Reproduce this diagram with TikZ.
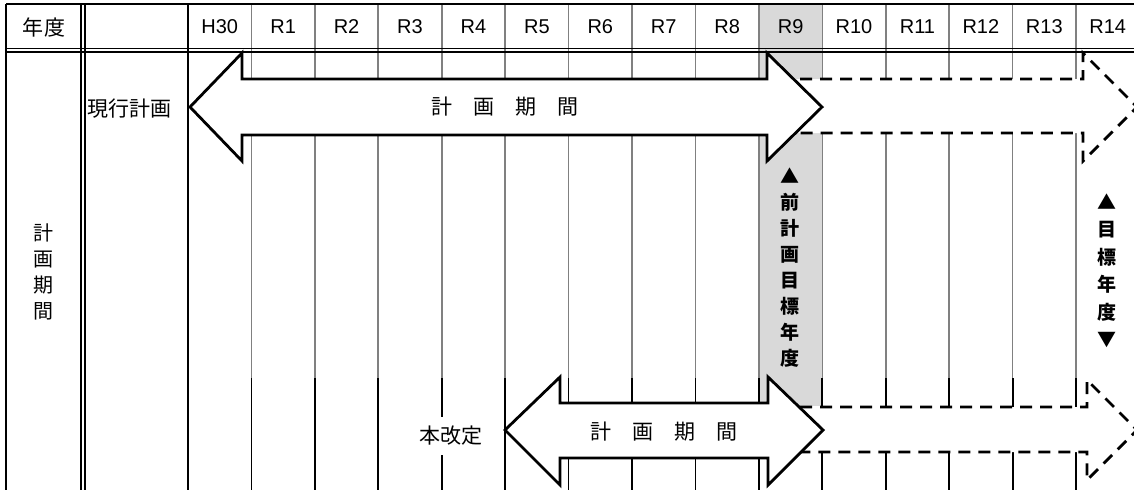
\documentclass[tikz,border=0pt]{standalone}
\usepackage{fontspec}
\setmainfont{Liberation Sans}
\newfontfamily\jfont{Noto Sans CJK JP}
\usetikzlibrary{positioning}

\definecolor{gridgray}{gray}{0.5}
\definecolor{goalshade}{gray}{0.85}

\begin{document}
\begin{tikzpicture}[x=1pt, y=-1pt,
  gridline/.style={gridgray, line width=1.6pt},
  rule/.style={black, line width=1.8pt},
  thinrule/.style={black, line width=1.2pt},
  bigarrow/.style={draw=black, fill=white, line width=2.8pt, line join=miter},
  planarrow/.style={draw=black, fill=white, line width=2.8pt, dash pattern=on 12pt off 8pt},
  yearlabel/.style={font=\fontsize{20}{22}\selectfont},
  jtext/.style={font=\jfont\fontsize{21}{26}\selectfont, inner sep=1pt},
  goal/.style={font=\jfont\bfseries\fontsize{19}{26}\selectfont, align=center, inner sep=0pt}]

\useasboundingbox (0,0) rectangle (1134,490);
\clip (0,0) rectangle (1134,490);

% target year column R9
\fill[goalshade] (759,4) rectangle (822,406);

% year columns
\foreach \k in {1,...,14} {
  \draw[gridline] ({188+63.43*\k},4) -- ({188+63.43*\k},378);
  \draw[rule] ({188+63.43*\k},378) -- ({188+63.43*\k},490);
}

% table frame
\draw[rule] (6,4) -- (1134,4);
\draw[thinrule] (6,48.5) -- (1134,48.5);
\draw[thinrule] (6,52) -- (1134,52);
\draw[rule] (6,4) -- (6,490);
\draw[thinrule] (81,4) -- (81,490);
\draw[thinrule] (85,4) -- (85,490);
\draw[rule] (188,4) -- (188,490);

% current plan
\draw[planarrow] (780,79) -- (1083,79) -- (1083,53) -- (1137,107) -- (1083,161) -- (1083,133) -- (780,133);
\draw[bigarrow] (190,107) -- (242,53) -- (242,79) -- (767,79) -- (767,53) -- (822,107)
  -- (767,161) -- (767,135) -- (242,135) -- (242,161) -- cycle;

% this revision
\draw[planarrow] (780,407) -- (1087,407) -- (1087,380) -- (1137,430) -- (1087,480) -- (1087,452) -- (780,452);
\draw[bigarrow] (505,430) -- (560,377) -- (560,403) -- (768,403) -- (768,377) -- (823,430)
  -- (768,485) -- (768,458) -- (560,458) -- (560,485) -- cycle;

% header
\node[jtext] (hdr-year) at (44,27) {年度};
\foreach \lbl [count=\k from 0] in {H30,R1,R2,R3,R4,R5,R6,R7,R8,R9,R10,R11,R12,R13,R14}
  \node[yearlabel] (yr-\k) at ({188+63.43*(\k+0.5)},27) {\lbl};

% labels
\node[jtext, align=center, font=\jfont\fontsize{20}{26}\selectfont] (col-period) at (43,272) {計\\画\\期\\間};
\node[jtext, anchor=west] (cur-plan) at (86,109) {現行計画};
\node[jtext] (cur-period) at (505,107) {計　画　期　間};
\node[jtext, fill=white, inner ysep=9pt] (revision) at (451,436) {本改定};
\node[jtext] (new-period) at (664,432) {計　画　期　間};
\node[goal] (prev-goal) at (790,268) {▲\\前\\計\\画\\目\\標\\年\\度};
\node[goal, font=\jfont\bfseries\fontsize{19}{27.5}\selectfont] (goal) at (1107,271) {▲\\目\\標\\年\\度\\▼};

\end{tikzpicture}
\end{document}
